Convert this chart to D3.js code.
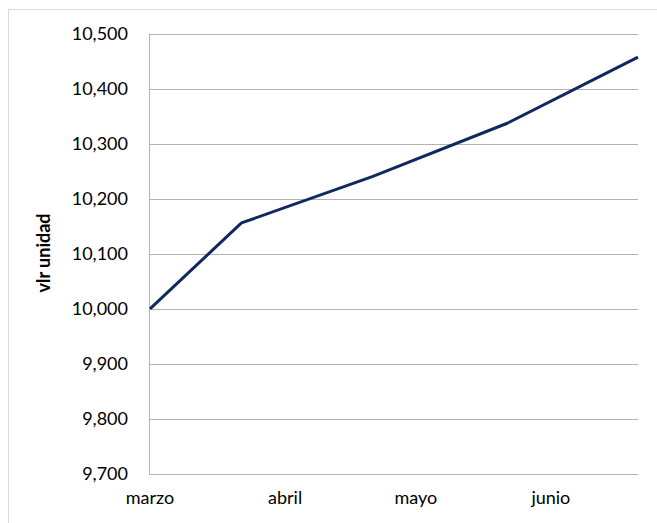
<!DOCTYPE html>
<html><head><meta charset="utf-8">
<script src="https://cdn.jsdelivr.net/npm/d3@7"></script>
<style>html,body{margin:0;padding:0;background:#fff;}svg{display:block;}</style>
</head><body>
<script>
const dates = ["2013-03-01","2013-03-22","2013-04-21","2013-05-22","2013-06-21"];
const values = [10000, 10156, 10240, 10337, 10457];
const monthTicks = ["2013-03-01","2013-04-01","2013-05-01","2013-06-01"];
const monthLabels = ["marzo","abril","mayo","junio"];
const yTicks = [9700, 9800, 9900, 10000, 10100, 10200, 10300, 10400, 10500];
const yTitle = "vlr unidad";

const W = 657, H = 523;
const parse = d3.timeParse("%Y-%m-%d");
const data = dates.map((d, i) => ({date: parse(d), value: values[i]}));

const svg = d3.select("body").append("svg").attr("width", W).attr("height", H);
const font = "Lato, 'Open Sans', sans-serif";

svg.append("rect").attr("x", 8.5).attr("y", 9.5).attr("width", W + 10).attr("height", H + 10)
  .attr("fill", "#fff").attr("stroke", "#d9d9d9").attr("stroke-width", 1);

const x = d3.scaleTime().domain([parse(dates[0]), parse(dates[dates.length - 1])]).range([150, 638]);
const y = d3.scaleLinear().domain([9700, 10500]).range([474, 33.5]);

// gridlines
svg.append("g").selectAll("line").data(yTicks).join("line")
  .attr("x1", 149).attr("x2", 638)
  .attr("y1", d => Math.round(y(d)) + 0.5).attr("y2", d => Math.round(y(d)) + 0.5)
  .attr("stroke", "#b3b3b3").attr("stroke-width", 1);

// y axis line
svg.append("line").attr("x1", 149.5).attr("x2", 149.5).attr("y1", y(10500)).attr("y2", y(9700) + 0.5)
  .attr("stroke", "#b3b3b3").attr("stroke-width", 1);

// y tick labels
const fmt = d3.format(",");
svg.append("g").selectAll("text").data(yTicks).join("text")
  .attr("x", 128).attr("y", d => y(d)).attr("dy", "0.35em")
  .attr("text-anchor", "end").attr("font-family", font).attr("font-size", 18).attr("fill", "#000")
  .text(d => fmt(d));

// x tick labels
svg.append("g").selectAll("text").data(monthTicks).join("text")
  .attr("x", (d, i) => x(parse(d))).attr("y", 504)
  .attr("text-anchor", "middle").attr("font-family", font).attr("font-size", 18).attr("fill", "#000")
  .text((d, i) => monthLabels[i]);

// y title
svg.append("text").attr("transform", "translate(50,253) rotate(-90)")
  .attr("text-anchor", "middle").attr("font-family", font).attr("font-weight", "bold")
  .attr("font-size", 18).attr("fill", "#000").text(yTitle);

// line
const line = d3.line().x(d => x(d.date)).y(d => y(d.value));
svg.append("path").datum(data).attr("d", line).attr("fill", "none")
  .attr("stroke", "#10285e").attr("stroke-width", 3).attr("stroke-linejoin", "round");
</script>
</body></html>
